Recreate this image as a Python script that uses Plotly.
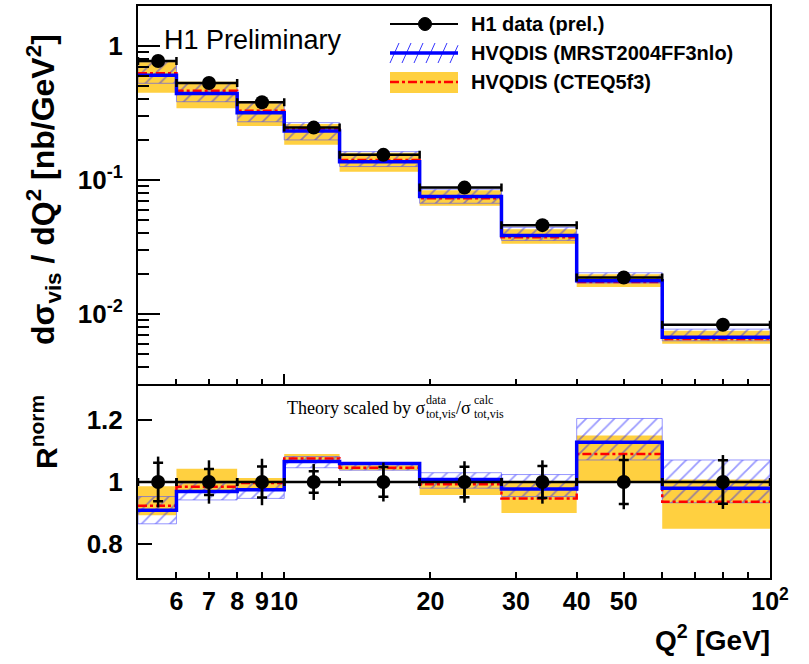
import numpy as np
import plotly.graph_objects as go

# ---------------- data ----------------
q2_edges = [5, 6, 8, 10, 13, 19, 28, 40, 60, 100]
q2_points = [5.5, 7, 9, 11.5, 16, 23.5, 34, 50, 80]

data_xsec = [0.773, 0.53, 0.38, 0.246, 0.154, 0.0877, 0.046, 0.0187, 0.0083]

mrst_xsec = [0.604, 0.443, 0.318, 0.232, 0.137, 0.0752, 0.0385, 0.0177, 0.0067]
mrst_xsec_lo = [0.527, 0.384, 0.272, 0.199, 0.126, 0.0670, 0.0354, 0.0170, 0.0063]
mrst_xsec_hi = [0.764, 0.527, 0.377, 0.268, 0.163, 0.0853, 0.0443, 0.0203, 0.0077]

cteq_xsec = [0.625, 0.464, 0.329, 0.239, 0.141, 0.0730, 0.0374, 0.0173, 0.0065]
cteq_xsec_lo = [0.448, 0.343, 0.253, 0.183, 0.115, 0.0642, 0.0334, 0.0159, 0.0060]
cteq_xsec_hi = [0.786, 0.541, 0.384, 0.262, 0.160, 0.0840, 0.0428, 0.0198, 0.0075]

ratio_data = [1.0, 1.0, 1.0, 1.0, 1.0, 1.0, 1.0, 1.0, 1.0]
ratio_stat = [0.062, 0.042, 0.050, 0.035, 0.048, 0.049, 0.052, 0.071, 0.070]
ratio_tot = [0.082, 0.070, 0.075, 0.058, 0.063, 0.067, 0.070, 0.088, 0.087]

mrst_ratio = [0.909, 0.969, 0.975, 1.066, 1.060, 1.008, 0.977, 1.128, 0.980]
mrst_ratio_lo = [0.865, 0.942, 0.947, 1.046, 1.038, 0.980, 0.953, 1.071, 0.933]
mrst_ratio_hi = [0.953, 0.997, 0.999, 1.082, 1.062, 1.030, 1.024, 1.205, 1.071]

cteq_ratio = [0.923, 0.985, 0.997, 1.076, 1.046, 0.993, 0.947, 1.090, 0.936]
cteq_ratio_lo = [0.893, 0.965, 0.980, 1.062, 1.038, 0.958, 0.900, 0.999, 0.849]
cteq_ratio_hi = [0.986, 1.043, 1.013, 1.090, 1.054, 1.013, 0.997, 1.150, 1.008]

x_tickvals = [6, 7, 8, 9, 10, 20, 30, 40, 50, 100]
x_ticktext = ["6", "7", "8", "9", "10", "20", "30", "40", "50", "10<sup>2</sup>"]
x_minor = [60, 70, 80, 90]
x_major_long = [10, 100]
y_top_tickvals = [0.01, 0.1, 1]
y_top_ticktext = ["10<sup>-2</sup>", "10<sup>-1</sup>", "1"]
y_ratio_tickvals = [0.8, 1.0, 1.2]
y_ratio_ticktext = ["0.8", "1", "1.2"]

# ---------------- helpers ----------------
YELLOW = "#FFD040"
HATCH_FG = "rgba(30,30,255,0.9)"
SANS = "Liberation Sans"
SERIF = "Liberation Serif"

L, R, T, B = 138, 770, 6, 578
W, H = R - L, B - T


def px_x(p):
    return (p - L) / W


def px_y(p):
    return (B - p) / H


def band_xy(edges, lo, hi):
    xs, ys = [], []
    for i in range(len(lo)):
        xs += [edges[i], edges[i + 1], edges[i + 1], edges[i], edges[i], None]
        ys += [lo[i], lo[i], hi[i], hi[i], lo[i], None]
    return xs, ys


def step(vals):
    return list(vals) + [vals[-1]]


x_err_plus = [q2_edges[i + 1] - q2_points[i] for i in range(len(q2_points))]
x_err_minus = [q2_points[i] - q2_edges[i] for i in range(len(q2_points))]

fig = go.Figure()


def add_panel(xa, ya, c_lo, c_hi, c_mid, m_lo, m_hi, m_mid):
    xs, ys = band_xy(q2_edges, c_lo, c_hi)
    fig.add_trace(go.Scatter(x=xs, y=ys, mode="lines", fill="toself", fillcolor=YELLOW,
                             line=dict(width=0, color=YELLOW), xaxis=xa, yaxis=ya,
                             showlegend=False, hoverinfo="skip"))
    xs, ys = band_xy(q2_edges, m_lo, m_hi)
    fig.add_trace(go.Scatter(x=xs, y=ys, mode="lines", fill="toself",
                             fillcolor="rgba(0,0,0,0)",
                             fillpattern=dict(shape="/", fgcolor=HATCH_FG,
                                              bgcolor="rgba(0,0,0,0)", size=10, solidity=0.18),
                             line=dict(width=1, color="rgba(80,80,255,0.6)"),
                             xaxis=xa, yaxis=ya, showlegend=False, hoverinfo="skip"))
    fig.add_trace(go.Scatter(x=q2_edges, y=step(c_mid), mode="lines", line_shape="hv",
                             line=dict(color="red", width=2.5, dash="dashdot"),
                             xaxis=xa, yaxis=ya, showlegend=False))
    fig.add_trace(go.Scatter(x=q2_edges, y=step(m_mid), mode="lines", line_shape="hv",
                             line=dict(color="#0000FF", width=3.5),
                             xaxis=xa, yaxis=ya, showlegend=False))


# top panel
add_panel("x2", "y2", cteq_xsec_lo, cteq_xsec_hi, cteq_xsec, mrst_xsec_lo, mrst_xsec_hi, mrst_xsec)
fig.add_trace(go.Scatter(x=q2_points, y=data_xsec, mode="markers",
                         marker=dict(size=14, color="black"),
                         error_x=dict(type="data", symmetric=False, array=x_err_plus,
                                      arrayminus=x_err_minus, color="black", thickness=2.5, width=4),
                         xaxis="x2", yaxis="y2", showlegend=False))

# ratio panel
add_panel("x", "y", cteq_ratio_lo, cteq_ratio_hi, cteq_ratio, mrst_ratio_lo, mrst_ratio_hi, mrst_ratio)
fig.add_trace(go.Scatter(x=q2_points, y=ratio_data, mode="markers",
                         marker=dict(size=0.1, color="rgba(0,0,0,0)"),
                         error_y=dict(type="data", array=ratio_stat, color="black",
                                      thickness=2.5, width=5),
                         xaxis="x", yaxis="y", showlegend=False))
fig.add_trace(go.Scatter(x=q2_points, y=ratio_data, mode="markers",
                         marker=dict(size=14, color="black"),
                         error_x=dict(type="data", symmetric=False, array=x_err_plus,
                                      arrayminus=x_err_minus, color="black", thickness=2.5, width=4),
                         error_y=dict(type="data", array=ratio_tot, color="black",
                                      thickness=2.5, width=0),
                         xaxis="x", yaxis="y", showlegend=False))

tickfont = dict(family=SANS, size=26, color="black", weight="bold")
xtickfont = dict(family=SANS, size=25, color="black", weight="bold")
xr = [np.log10(5), 2]
frame = dict(showline=True, linecolor="black", linewidth=2, mirror=True,
             showgrid=False, zeroline=False, automargin=False)

fig.update_layout(
    width=809, height=664,
    margin=dict(l=L, r=809 - R, t=T, b=664 - B, autoexpand=False),
    paper_bgcolor="white", plot_bgcolor="white",
    showlegend=False,
    xaxis=dict(type="log", range=xr, domain=[0, 1], anchor="y", **frame,
               ticks="inside", ticklen=6, tickwidth=1.5, tickcolor="black",
               tickvals=x_tickvals, ticktext=x_ticktext, tickfont=xtickfont,
               tickangle=0, ticklabelstandoff=0,
               minor=dict(tickmode="array", tickvals=x_minor, ticks="inside",
                          ticklen=6, tickwidth=1.5, tickcolor="black", showgrid=False)),
    xaxis3=dict(type="log", range=xr, overlaying="x", anchor="y", showline=False,
                showgrid=False, zeroline=False, ticks="inside", ticklen=13, tickwidth=1.5,
                tickcolor="black", tickvals=x_major_long, showticklabels=False, automargin=False),
    yaxis=dict(range=[0.69, 1.31], domain=[0, 0.3357], anchor="x", **frame,
               ticks="inside", ticklen=14, tickwidth=1.5, tickcolor="black",
               tickvals=y_ratio_tickvals, ticktext=y_ratio_ticktext, tickfont=tickfont,
               ticklabelstandoff=8),
    xaxis2=dict(type="log", range=xr, domain=[0, 1], anchor="y2", matches="x", **frame,
                ticks="inside", ticklen=10, tickwidth=1.5, tickcolor="black",
                tickvals=x_major_long, showticklabels=False,
                minor=dict(tickmode="array", tickvals=[6, 7, 8, 9, 20, 30, 40, 50, 60, 70, 80, 90],
                           ticks="inside", ticklen=5, tickwidth=1.5, tickcolor="black",
                           showgrid=False)),
    yaxis2=dict(type="log", range=[np.log10(0.0030), np.log10(1.99)], domain=[0.3392, 1],
                anchor="x2", **frame,
                ticks="inside", ticklen=22, tickwidth=1.5, tickcolor="black",
                tickvals=y_top_tickvals, ticktext=y_top_ticktext, tickfont=tickfont,
                ticklabelstandoff=8,
                minor=dict(tickmode="array",
                           tickvals=[k * d for d in (0.001, 0.01, 0.1) for k in range(2, 10)] + [2],
                           ticks="inside", ticklen=11, tickwidth=1.5, tickcolor="black",
                           showgrid=False)),
)

ann = []
ann.append(dict(text="H1 Preliminary", x=px_x(162), y=px_y(40), xanchor="left", yanchor="middle",
                font=dict(family=SANS, size=27, color="black")))
for label, yy in [("H1 data (prel.)", 24), ("HVQDIS (MRST2004FF3nlo)", 53), ("HVQDIS (CTEQ5f3)", 82)]:
    ann.append(dict(text="<b>" + label + "</b>", x=px_x(469), y=px_y(yy), xanchor="left",
                    yanchor="middle", font=dict(family=SANS, size=20, color="black")))
ann.append(dict(text="<b>dσ<sub>vis</sub> / dQ<sup>2</sup> [nb/GeV<sup>2</sup>]</b>",
                x=px_x(43), y=px_y(190), textangle=-90, xanchor="center", yanchor="middle",
                font=dict(family=SANS, size=32, color="black")))
ann.append(dict(text="<b>R<sup>norm</sup></b>", x=px_x(44), y=px_y(432), textangle=-90,
                xanchor="center", yanchor="middle", font=dict(family=SANS, size=30, color="black")))
ann.append(dict(text="<b>Q<sup>2</sup> [GeV]</b>", x=px_x(772), y=px_y(638), xanchor="right",
                yanchor="middle", font=dict(family=SANS, size=28, color="black")))
# theory scaling note
ann.append(dict(text="Theory scaled by σ", x=px_x(427), y=px_y(408), xanchor="right",
                yanchor="middle", font=dict(family=SERIF, size=18, color="black")))
for txt, xx, yy in [("data", 424, 400), ("tot,vis", 424, 414), ("calc", 472, 400), ("tot,vis", 472, 414)]:
    ann.append(dict(text=txt, x=px_x(xx), y=px_y(yy), xanchor="left", yanchor="middle",
                    font=dict(family=SERIF, size=12, color="black")))
ann.append(dict(text="/σ", x=px_x(454), y=px_y(408), xanchor="left", yanchor="middle",
                font=dict(family=SERIF, size=18, color="black")))
for a in ann:
    a.update(xref="paper", yref="paper", showarrow=False)
fig.update_layout(annotations=ann)

# legend symbols (decoration, in paper coordinates)
shapes = []
sx0, sx1 = 390, 458
shapes.append(dict(type="line", x0=px_x(sx0), x1=px_x(sx1), y0=px_y(24), y1=px_y(24),
                   line=dict(color="black", width=2)))
shapes.append(dict(type="circle", x0=px_x(425 - 6.5), x1=px_x(425 + 6.5), y0=px_y(24 - 6.5),
                   y1=px_y(24 + 6.5), fillcolor="black", line=dict(color="black", width=1)))
for k in range(6):
    xa = sx0 + k * 12
    xb = min(xa + 9, sx1)
    shapes.append(dict(type="line", x0=px_x(xa), x1=px_x(xb), y0=px_y(63), y1=px_y(63 - 20 * (xb - xa) / 9),
                       line=dict(color=HATCH_FG, width=1)))
shapes.append(dict(type="line", x0=px_x(sx0), x1=px_x(sx1), y0=px_y(53), y1=px_y(53),
                   line=dict(color="#0000FF", width=3.5)))
shapes.append(dict(type="rect", x0=px_x(sx0), x1=px_x(sx1), y0=px_y(72), y1=px_y(93),
                   fillcolor=YELLOW, line=dict(width=0)))
shapes.append(dict(type="line", x0=px_x(sx0), x1=px_x(sx1), y0=px_y(82), y1=px_y(82),
                   line=dict(color="red", width=2.5, dash="dashdot")))
for s in shapes:
    s.update(xref="paper", yref="paper")
fig.update_layout(shapes=shapes)

fig.write_html("out.html", config={"displayModeBar": False},
               post_script="document.body.style.margin='0px';document.body.style.overflow='hidden';")
